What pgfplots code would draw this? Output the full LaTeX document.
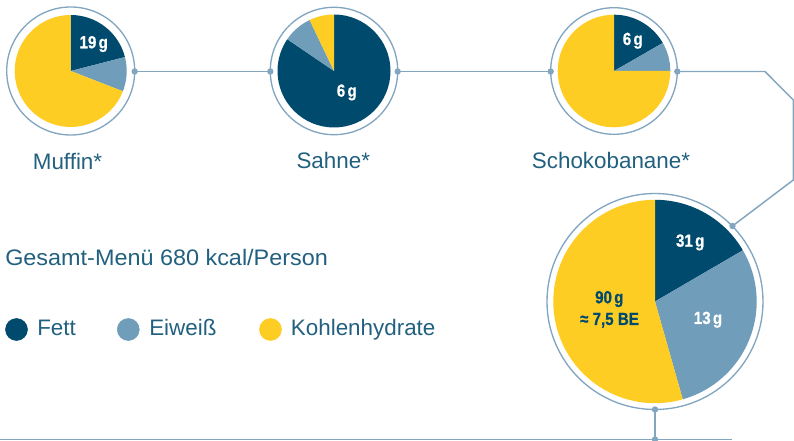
\documentclass[border=0pt]{standalone}
\usepackage{pgfplots}
\pgfplotsset{compat=1.18}
\usepackage{fontspec}
\setmainfont{Liberation Sans}
\newfontfamily\numfont{Liberation Sans Bold}[FakeBold=0.8]

\definecolor{cFett}{HTML}{004A6D}
\definecolor{cEiw}{HTML}{709DBA}
\definecolor{cKH}{HTML}{FECD24}
\definecolor{cLine}{HTML}{82A5C0}
\definecolor{cText}{HTML}{22607F}

% one picture pixel
\newcommand{\px}{0.75pt}

% pie: cx, cy, radius, Fett (%), Eiweiss (%), ring radius -- clockwise from top
\newcommand{\pie}[6]{%
  \fill[cFett] (axis cs:#1,#2) -- ++(90:{#3*\px})
    arc[start angle=90, delta angle={-3.6*#4}, radius={#3*\px}] -- cycle;
  \fill[cEiw] (axis cs:#1,#2) -- ++({90-3.6*#4}:{#3*\px})
    arc[start angle={90-3.6*#4}, delta angle={-3.6*#5}, radius={#3*\px}] -- cycle;
  \fill[cKH] (axis cs:#1,#2) -- ++({90-3.6*(#4+#5)}:{#3*\px})
    arc[start angle={90-3.6*(#4+#5)}, end angle=-270, radius={#3*\px}] -- cycle;
  \draw[cLine, line width=1pt] (axis cs:#1,#2) circle[radius={#6*\px}];
}

\newcommand{\lbl}{\fontsize{16.8}{20}\selectfont}
\newcommand{\num}[1]{\scalebox{0.86}[1]{\fontsize{13.2}{15}\numfont #1}}
\newcommand{\gs}{\hspace{0.15em}}

\begin{document}
\begin{tikzpicture}
\begin{axis}[
    x=\px, y=\px,
    y dir=reverse,
    xmin=0, xmax=794, ymin=0, ymax=441,
    hide axis,
    clip=false,
]
% connectors
\addplot[cLine, line width=1.1pt, mark=*, mark size=1.8pt] coordinates {(134.7,71.5) (270.3,71.5)};
\addplot[cLine, line width=1.1pt, mark=*, mark size=1.8pt] coordinates {(397.7,71.5) (550.7,71.5)};
\addplot[cLine, line width=1.1pt, mark=*, mark size=1.8pt, mark indices={1,5}]
    coordinates {(677.3,71.5) (765,71.5) (793.3,100) (793.3,180) (732.5,226)};
\addplot[cLine, line width=1.1pt, mark=none] coordinates {(0,439.5) (731.7,439.5)};
\addplot[cLine, line width=1.1pt, mark=*, mark size=1.8pt] coordinates {(655,409.5) (655,439.5)};

% pies
\pie{70.7}{71}{56}{21.0}{9.9}{64}
\pie{334}{71}{56.5}{84.5}{8.4}{63.7}
\pie{614}{71}{56.3}{16.7}{8.3}{63.3}
\pie{655}{301.5}{101.7}{16.6}{29.0}{108}

% legend markers
\addplot[only marks, mark=*, mark size=8.25pt, color=cFett] coordinates {(16.5,329.5)};
\addplot[only marks, mark=*, mark size=8.25pt, color=cEiw] coordinates {(128.3,329.5)};
\addplot[only marks, mark=*, mark size=8.25pt, color=cKH] coordinates {(270.5,329.5)};

% labels
\node[cText, font=\lbl, anchor=base, inner sep=0] at (axis cs:67.5,169.3) {Muffin*};
\node[cText, font=\lbl, anchor=base, inner sep=0] at (axis cs:333.3,168.5) {Sahne*};
\node[cText, font=\lbl, anchor=base, inner sep=0] at (axis cs:611,168.5) {Schokobanane*};
\node[cText, font=\lbl, anchor=base west, inner sep=0] at (axis cs:5,266) {\scalebox{1.045}[1]{Gesamt-Menü 680 kcal/Person}};
\node[cText, font=\lbl, anchor=base west, inner sep=0] at (axis cs:37,336) {Fett};
\node[cText, font=\lbl, anchor=base west, inner sep=0] at (axis cs:149,336) {Eiweiß};
\node[cText, font=\lbl, anchor=base west, inner sep=0] at (axis cs:290.7,336) {Kohlenhydrate};

% values
\node[white, anchor=base, inner sep=0] at (axis cs:93.7,48.3) {\num{19\gs g}};
\node[white, anchor=base, inner sep=0] at (axis cs:346.8,96.7) {\num{6\gs g}};
\node[white, anchor=base, inner sep=0] at (axis cs:632.8,45) {\num{6\gs g}};
\node[white, anchor=base, inner sep=0] at (axis cs:690.2,246.7) {\num{31\gs g}};
\node[white, anchor=base, inner sep=0] at (axis cs:708,324) {\num{13\gs g}};
\node[cFett, anchor=base, inner sep=0] at (axis cs:609.3,303.3) {\num{90\gs g}};
\node[cFett, anchor=base, inner sep=0] at (axis cs:609.5,325) {\num{≈ 7,5 BE}};
\end{axis}
\pgfresetboundingbox
\path[use as bounding box] (current axis.south west) rectangle (current axis.north east);
\end{tikzpicture}
\end{document}
